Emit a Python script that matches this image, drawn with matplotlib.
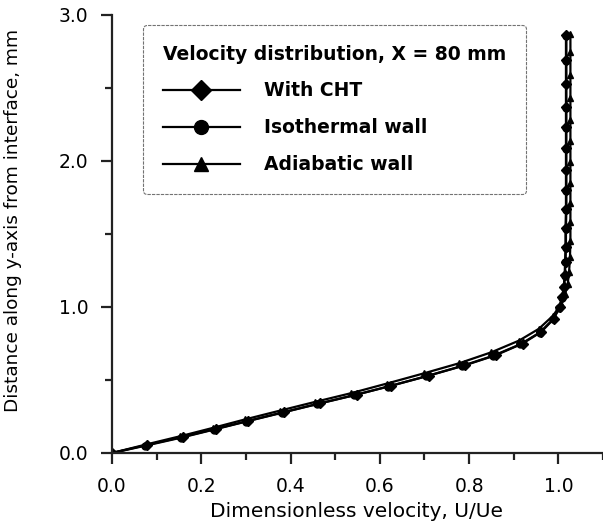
import matplotlib
matplotlib.use("Agg")
import matplotlib.pyplot as plt
from matplotlib.ticker import MultipleLocator, FormatStrFormatter

# velocity profiles at X = 80 mm
cht_y = [0.0, 0.055, 0.11, 0.165, 0.22, 0.28, 0.34, 0.40, 0.46, 0.53, 0.60,
         0.67, 0.75, 0.83, 0.92, 1.0, 1.07, 1.14, 1.22, 1.31, 1.41, 1.54,
         1.67, 1.80, 1.94, 2.09, 2.23, 2.37, 2.53, 2.69, 2.86]
cht_u = [0.0, 0.078, 0.158, 0.232, 0.305, 0.385, 0.465, 0.548, 0.625, 0.71,
         0.79, 0.86, 0.92, 0.962, 0.99, 1.003, 1.009, 1.013, 1.015, 1.016,
         1.017, 1.017, 1.018, 1.018, 1.018, 1.018, 1.018, 1.018, 1.018,
         1.018, 1.018]

iso_y = [0.0, 0.05, 0.105, 0.16, 0.215, 0.275, 0.335, 0.395, 0.455, 0.525,
         0.595, 0.665, 0.745, 0.825, 0.915, 0.995, 1.065, 1.135, 1.215,
         1.305, 1.405, 1.535, 1.665, 1.795, 1.935, 2.085, 2.225, 2.365,
         2.525, 2.685, 2.855]
iso_u = [0.0, 0.075, 0.155, 0.228, 0.30, 0.38, 0.46, 0.542, 0.618, 0.703,
         0.783, 0.853, 0.915, 0.958, 0.988, 1.002, 1.008, 1.012, 1.014,
         1.015, 1.016, 1.016, 1.017, 1.017, 1.017, 1.017, 1.017, 1.017,
         1.017, 1.017, 1.017]

adi_y = [0.0, 0.058, 0.115, 0.172, 0.23, 0.29, 0.35, 0.41, 0.475, 0.545,
         0.615, 0.69, 0.77, 0.85, 0.94, 1.02, 1.09, 1.16, 1.24, 1.34, 1.45,
         1.58, 1.71, 1.85, 1.99, 2.14, 2.28, 2.43, 2.59, 2.75, 2.87]
adi_u = [0.0, 0.076, 0.153, 0.226, 0.298, 0.376, 0.455, 0.536, 0.615, 0.698,
         0.778, 0.85, 0.912, 0.956, 0.988, 1.006, 1.015, 1.021, 1.024, 1.026,
         1.027, 1.027, 1.027, 1.027, 1.027, 1.027, 1.027, 1.027, 1.027,
         1.027, 1.027]

SERIES = [
    ("With CHT", cht_u, cht_y, "D"),
    ("Isothermal wall", iso_u, iso_y, "o"),
    ("Adiabatic wall", adi_u, adi_y, "^"),
]

plt.rcParams["font.family"] = ["DejaVu Sans"]

fig = plt.figure(figsize=(6.03, 5.26), dpi=100)
ax = fig.add_axes([112 / 603, 73 / 526, 1 - 112 / 603, 438 / 526])

for name, u, y, mk in SERIES:
    ax.plot(u, y, color="black", lw=1.6, marker=mk, ms=5,
            mfc="black", mec="black", label=name)

ax.set_xlim(0, 1.1)
ax.set_ylim(0, 3.0)
ax.xaxis.set_major_locator(MultipleLocator(0.2))
ax.xaxis.set_minor_locator(MultipleLocator(0.1))
ax.yaxis.set_major_locator(MultipleLocator(1.0))
ax.yaxis.set_minor_locator(MultipleLocator(0.5))
ax.xaxis.set_major_formatter(FormatStrFormatter("%.1f"))
ax.yaxis.set_major_formatter(FormatStrFormatter("%.1f"))

for side in ("top", "right"):
    ax.spines[side].set_visible(False)
for side in ("left", "bottom"):
    ax.spines[side].set_linewidth(1.6)
    ax.spines[side].set_color("#222222")

ax.tick_params(which="major", direction="out", length=8, width=1.6,
               labelsize=13.5, pad=9, color="#222222")
ax.tick_params(which="minor", direction="out", length=5, width=1.6,
               color="#222222")

ax.set_xlabel("Dimensionless velocity, U/Ue", fontsize=14.5)
ax.set_ylabel("Distance along y-axis from interface, mm", fontsize=13.3)
ax.xaxis.set_label_coords(0.497, -0.112)
ax.yaxis.set_label_coords(-0.183, 0.532)

leg = ax.legend(loc="upper left", bbox_to_anchor=(143 / 603, 1 - 25 / 526),
                bbox_transform=fig.transFigure, borderaxespad=0,
                title="Velocity distribution, X = 80 mm",
                title_fontproperties={"weight": "bold", "size": 13.5},
                prop={"weight": "bold", "size": 13.5},
                handlelength=4.1, handletextpad=1.3, labelspacing=0.95,
                markerscale=2.0, fancybox=True, alignment="left",
                borderpad=1.05, framealpha=1)
leg.get_frame().set_edgecolor("0.45")
leg.get_frame().set_linewidth(0.8)
leg.get_frame().set_linestyle((0, (3, 1)))

fig.savefig("out.png", dpi=100)
